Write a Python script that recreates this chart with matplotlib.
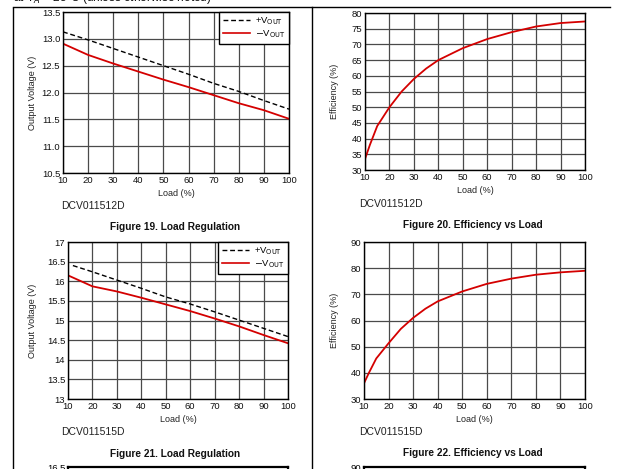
import numpy as np
import matplotlib
matplotlib.use('Agg')
import matplotlib.pyplot as plt
from matplotlib.lines import Line2D

plt.rcParams['font.family'] = ['Liberation Sans', 'DejaVu Sans']

load = [10, 20, 30, 40, 50, 60, 70, 80, 90, 100]

# DCV011512D load regulation
v12_pos = [13.13, 12.98, 12.82, 12.66, 12.50, 12.34, 12.17, 12.02, 11.85, 11.69]
v12_neg = [12.91, 12.70, 12.54, 12.39, 12.24, 12.10, 11.95, 11.80, 11.67, 11.51]

# DCV011512D efficiency
eff_load = [10, 12, 15, 20, 25, 30, 35, 40, 50, 60, 70, 80, 90, 100]
eff12 = [33.5, 38.0, 44.0, 50.0, 55.0, 59.0, 62.3, 65.0, 68.8, 71.7, 73.9, 75.7, 76.8, 77.3]

# DCV011515D load regulation
load15_pos = [12, 20, 30, 40, 50, 60, 70, 80, 90, 100]
v15_pos = [16.40, 16.24, 16.03, 15.82, 15.60, 15.42, 15.22, 15.01, 14.80, 14.59]
v15_neg = [16.15, 15.87, 15.74, 15.58, 15.41, 15.24, 15.05, 14.85, 14.63, 14.42]

# DCV011515D efficiency
eff15 = [36.0, 40.0, 45.5, 51.3, 56.8, 61.0, 64.5, 67.3, 71.1, 74.0, 76.0, 77.5, 78.4, 79.0]

W, H = 620, 469
fig = plt.figure(figsize=(6.2, 4.69), dpi=100)


def px(l, t, r, b):
    return [l / W, 1 - b / H, (r - l) / W, (b - t) / H]


RED = '#d40000'
GRID = '#4a4a4a'
TICK = 6.8


def style(ax, xlim, ylim, yticks, ylabels, ylabel, ylab_x):
    ax.set_xlim(*xlim)
    ax.set_ylim(*ylim)
    ax.set_xticks(load)
    ax.set_xticklabels([str(v) for v in load])
    ax.set_yticks(yticks)
    ax.set_yticklabels(ylabels)
    ax.tick_params(length=0, labelsize=TICK, pad=2, colors='#111111')
    ax.grid(True, color=GRID, linewidth=0.9)
    ax.set_axisbelow(True)
    for s in ax.spines.values():
        s.set_linewidth(1.0)
        s.set_color('black')
    ax.set_xlabel('Load (%)', fontsize=6.5, labelpad=3, color='#222222')
    ax.set_ylabel(ylabel, fontsize=6.5, color='#222222')
    ax.yaxis.set_label_coords(ylab_x, 0.5)


def legend(ax):
    handles = [Line2D([], [], color='black', ls=(0, (3.5, 2)), lw=1.0),
               Line2D([], [], color=RED, lw=1.2)]
    leg = ax.legend(handles, [r'+V$_{\mathrm{OUT}}$', r'$-$V$_{\mathrm{OUT}}$'],
                    loc='upper right', fontsize=6.8, frameon=True, fancybox=False,
                    borderaxespad=0, handlelength=2.9, labelspacing=0.2,
                    borderpad=0.35, handletextpad=0.55)
    leg.get_frame().set_edgecolor('black')
    leg.get_frame().set_linewidth(1.0)
    leg.get_frame().set_alpha(1)


# Figure 19
ax1 = fig.add_axes(px(63, 12, 289, 173))
ax1.plot(load, v12_pos, color='black', ls=(0, (3.5, 2)), lw=1.0)
ax1.plot(load, v12_neg, color=RED, lw=1.3)
yt = [10.5, 11.0, 11.5, 12.0, 12.5, 13.0, 13.5]
style(ax1, (10, 100), (10.5, 13.5), yt, ['%.1f' % v for v in yt],
      'Output Voltage (V)', -0.115)
legend(ax1)

# Figure 20
ax2 = fig.add_axes(px(365, 13, 585, 170))
ax2.plot(eff_load, eff12, color=RED, lw=1.3)
yt = list(range(30, 81, 5))
style(ax2, (10, 100), (30, 80), yt, [str(v) for v in yt], 'Efficiency (%)', -0.118)

# Figure 21
ax3 = fig.add_axes(px(68, 242, 288, 399))
ax3.plot(load15_pos, v15_pos, color='black', ls=(0, (3.5, 2)), lw=1.0)
ax3.plot(load, v15_neg, color=RED, lw=1.3)
yt = [13, 13.5, 14, 14.5, 15, 15.5, 16, 16.5, 17]
style(ax3, (10, 100), (13, 17), yt, ['%g' % v for v in yt],
      'Output Voltage (V)', -0.14)
legend(ax3)

# Figure 22
ax4 = fig.add_axes(px(364, 242, 585, 399))
ax4.plot(eff_load, eff15, color=RED, lw=1.3)
yt = list(range(30, 91, 10))
style(ax4, (10, 100), (30, 90), yt, [str(v) for v in yt], 'Efficiency (%)', -0.114)

# next row of charts, cut off by the page edge
for l, r, top in [(68, 288, '16.5'), (364, 585, '90')]:
    axn = fig.add_axes(px(l, 467, r, 620))
    axn.set_xticks([])
    axn.set_ylim(0, 1)
    axn.set_yticks([1])
    axn.set_yticklabels([top])
    axn.tick_params(length=0, labelsize=TICK, pad=2)
    for s in axn.spines.values():
        s.set_linewidth(1.6)

# captions
for x, y, t in [(61, 206, 'DCV011512D'), (359, 204, 'DCV011512D'),
                (61, 432, 'DCV011515D'), (359, 432, 'DCV011515D')]:
    fig.text(x / W, 1 - y / H, t, fontsize=7.5, va='center', ha='left', color='#222222')
for x, y, t in [(175, 227, 'Figure 19. Load Regulation'),
                (473, 225, 'Figure 20. Efficiency vs Load'),
                (175, 454, 'Figure 21. Load Regulation'),
                (473, 453, 'Figure 22. Efficiency vs Load')]:
    fig.text(x / W, 1 - y / H, t, fontsize=7.3, va='center', ha='center',
             fontweight='bold', color='#111111')

fig.text(13 / W, 1 + 2 / H, r'at T$_A$ = 25°C (unless otherwise noted)', fontsize=8.5,
         va='center', ha='left', color='#111111')

# page frame lines
frame = [([13, 13], [8, 469]), ([13, 610], [7.5, 7.5]), ([311.5, 311.5], [7.5, 469])]
for xs, ys in frame:
    fig.add_artist(Line2D([x / W for x in xs], [1 - y / H for y in ys],
                          color='black', lw=1.0, transform=fig.transFigure))

fig.savefig('out.png', dpi=100)
